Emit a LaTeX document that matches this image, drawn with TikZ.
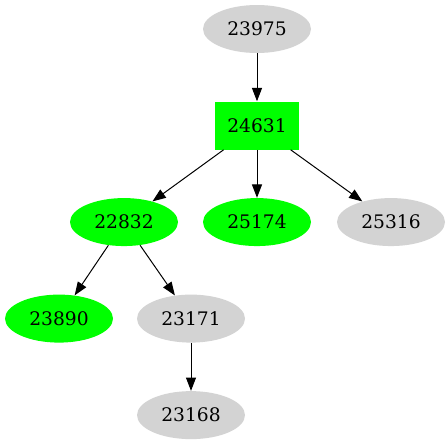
\documentclass[tikz,border=0pt]{standalone}
\usepackage{fontspec}
\setmainfont{DejaVu Serif}
\usetikzlibrary{positioning,shapes.geometric,arrows.meta}
\definecolor{gvgreen}{HTML}{00FF00}
\definecolor{gvgrey}{HTML}{D3D3D3}

\begin{document}
\begin{tikzpicture}[
        x=0.75pt, y=-0.75pt,
        node distance=36pt,
        every node/.style={font=\fontsize{14}{16}\selectfont},
        oval/.style={ellipse, minimum width=81pt, minimum height=36pt, inner sep=0pt},
        greenoval/.style={oval, fill=gvgreen},
        greyoval/.style={oval, fill=gvgrey},
        greenbox/.style={rectangle, fill=gvgreen, minimum width=63pt, minimum height=36pt},
        arrow/.style={-{Triangle[length=10pt,width=7.5pt]}, line width=0.75pt}
    ]
        \useasboundingbox (0,0) rectangle (447,443);

        % root and its box
        \node[greyoval] (n23975) at (257,29) {23975};
        \node[greenbox, below=of n23975] (n24631) {24631};

        % second rank
        \node[greenoval, below=of n24631, xshift=-99.75pt] (n22832) {22832};
        \node[greenoval, below=of n24631] (n25174) {25174};
        \node[greyoval, below=of n24631, xshift=100.5pt] (n25316) {25316};

        % third and fourth rank
        \node[greenoval, below=of n22832, xshift=-48.75pt] (n23890) {23890};
        \node[greyoval, below=of n22832, xshift=50.25pt] (n23171) {23171};
        \node[greyoval, below=of n23171] (n23168) {23168};

        % edges
        \draw[arrow] (n23975) -- (n24631);
        \draw[arrow] (n24631) -- (n22832);
        \draw[arrow] (n24631) -- (n25174);
        \draw[arrow] (n24631) -- (n25316);
        \draw[arrow] (n22832) -- (n23890);
        \draw[arrow] (n22832) -- (n23171);
        \draw[arrow] (n23171) -- (n23168);
    \end{tikzpicture}
\end{document}
